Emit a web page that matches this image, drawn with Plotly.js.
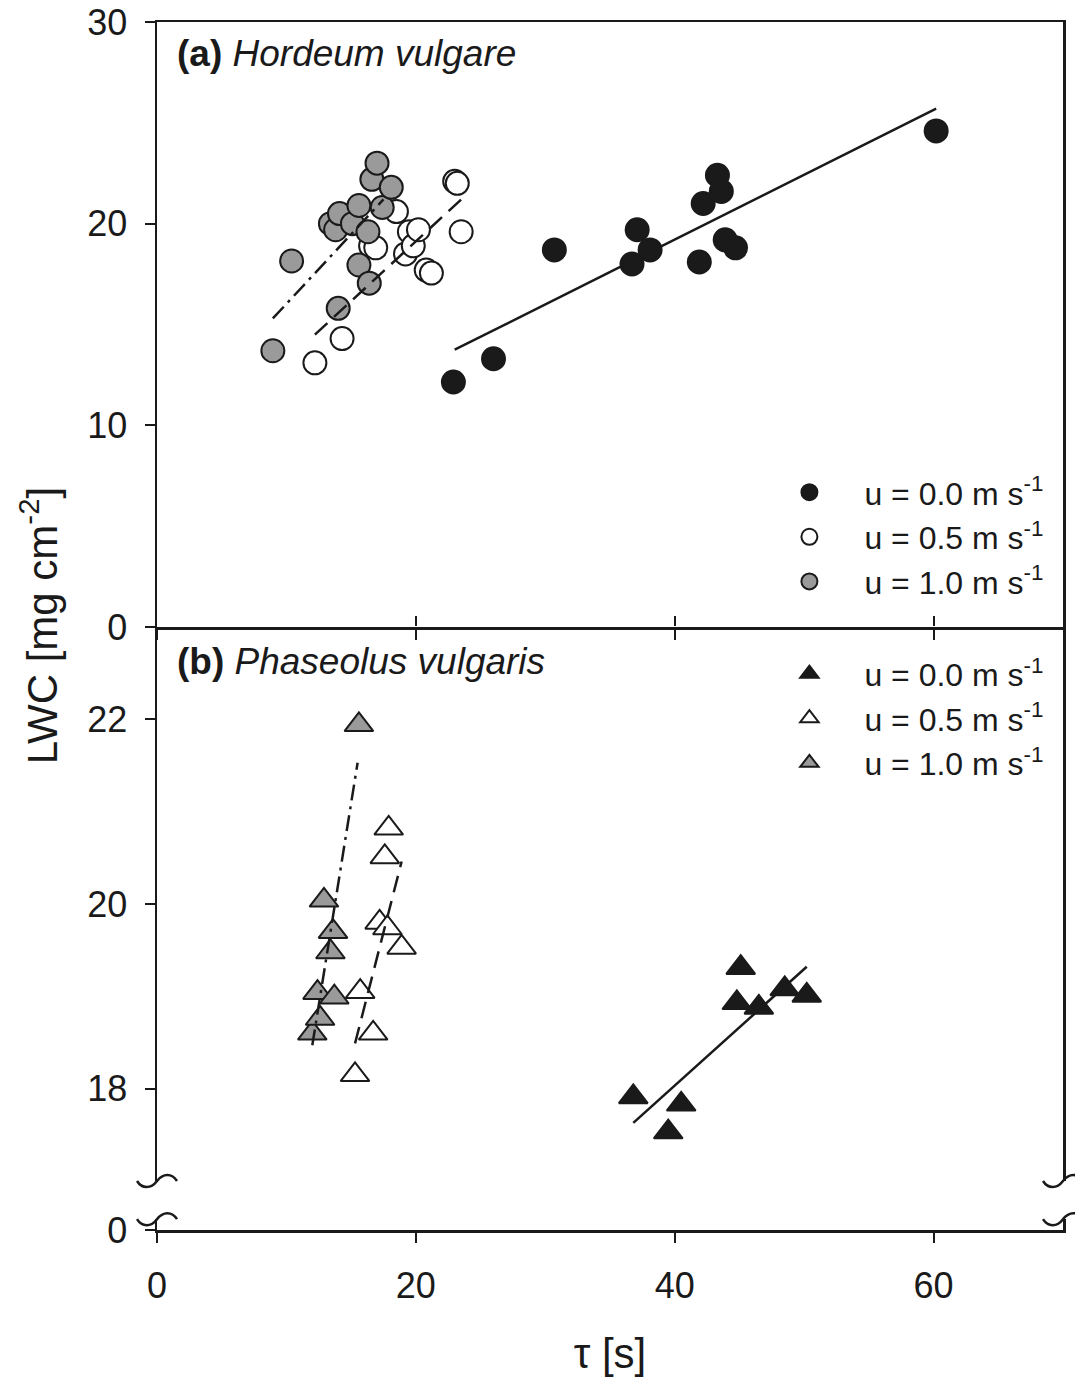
<!DOCTYPE html>
<html>
<head>
<meta charset="utf-8">
<script src="https://cdn.plot.ly/plotly-3.0.1.min.js"></script>
<style>html,body{margin:0;padding:0;background:#fff;}</style>
</head>
<body>
<div id="chart" style="width:1075px;height:1378px;"></div>
<script>
// ---------- Data: (a) Hordeum vulgare ----------
const hvTau00 = [22.9, 26.0, 30.7, 36.7, 37.1, 38.1, 41.9, 42.2, 43.3, 43.6, 43.9, 44.7, 60.2];
const hvLwc00 = [12.15, 13.3, 18.7, 18.0, 19.7, 18.7, 18.1, 21.0, 22.4, 21.6, 19.2, 18.8, 24.6];
const hvTau05 = [12.2, 14.3, 16.5, 16.9, 18.5, 19.2, 19.5, 19.8, 20.2, 20.8, 21.2, 23.0, 23.2, 23.5];
const hvLwc05 = [13.1, 14.3, 18.9, 18.8, 20.6, 18.5, 19.6, 18.9, 19.7, 17.7, 17.55, 22.1, 22.0, 19.6];
const hvTau10 = [8.95, 10.4, 13.4, 13.8, 14.0, 14.1, 15.1, 15.6, 15.6, 16.3, 16.4, 16.6, 17.0, 17.4, 18.1];
const hvLwc10 = [13.7, 18.15, 20.0, 19.7, 15.8, 20.5, 20.0, 20.9, 17.95, 19.6, 17.05, 22.2, 23.0, 20.8, 21.8];
// regression line end points
const hvFitTau00 = [23.0, 60.2];  const hvFitLwc00 = [13.75, 25.7];
const hvFitTau05 = [12.2, 23.5];  const hvFitLwc05 = [14.5, 21.2];
const hvFitTau10 = [8.95, 17.5];  const hvFitLwc10 = [15.3, 21.2];

// ---------- Data: (b) Phaseolus vulgaris ----------
const pvTau00 = [36.8, 39.5, 40.5, 44.8, 45.1, 46.5, 48.5, 50.2];
const pvLwc00 = [17.91, 17.53, 17.83, 18.93, 19.31, 18.88, 19.08, 19.01];
const pvTau05 = [15.3, 15.7, 16.7, 17.2, 17.6, 17.8, 17.9, 18.9];
const pvLwc05 = [18.15, 19.05, 18.60, 19.80, 20.51, 19.74, 20.82, 19.53];
const pvTau10 = [12.0, 12.4, 12.6, 13.4, 13.6, 12.9, 13.7, 15.6];
const pvLwc10 = [18.60, 19.04, 18.76, 19.48, 19.70, 20.04, 18.99, 21.94];
const pvFitTau00 = [36.8, 50.2];  const pvFitLwc00 = [17.63, 19.32];
const pvFitTau05 = [15.3, 18.9];  const pvFitLwc05 = [18.49, 20.46];
const pvFitTau10 = [12.0, 15.5];  const pvFitLwc10 = [18.47, 21.53];

// ---------- Text ----------
const seriesNames = ['u = 0.0 m s<sup>-1</sup>', 'u = 0.5 m s<sup>-1</sup>', 'u = 1.0 m s<sup>-1</sup>'];
const xTicks = [0, 20, 40, 60];
const yTicksTop = [0, 10, 20, 30];
const yTicksBottom = [18, 20, 22];
const yTicksBreak = [0];

// ---------- Styles ----------
const INK = '#1a1a1a';
const GREY = '#9a9a9a';
const fills = [INK, '#ffffff', GREY];
const dashes = ['solid', '17px,9px', '16px,6px,3px,6px'];
const FONT = 'Liberation Sans, Arial, Helvetica, sans-serif';

function markerTrace(x, y, i, sym, xa, ya, leg) {
  return {
    type: 'scatter', mode: 'markers', x: x, y: y, xaxis: xa, yaxis: ya,
    name: seriesNames[i], legend: leg, showlegend: true,
    marker: {symbol: sym, size: sym === 'circle' ? 23 : 25, color: fills[i], line: {color: INK, width: 2}},
    hoverinfo: 'x+y'
  };
}
function lineTrace(x, y, i, xa, ya) {
  return {
    type: 'scatter', mode: 'lines', x: x, y: y, xaxis: xa, yaxis: ya,
    showlegend: false, line: {color: INK, width: 2.5, dash: dashes[i]}, hoverinfo: 'skip'
  };
}

const traces = [
  markerTrace(hvTau00, hvLwc00, 0, 'circle', 'x', 'y', 'legend'),
  markerTrace(hvTau05, hvLwc05, 1, 'circle', 'x', 'y', 'legend'),
  markerTrace(hvTau10, hvLwc10, 2, 'circle', 'x', 'y', 'legend'),
  lineTrace(hvFitTau00, hvFitLwc00, 0, 'x', 'y'),
  lineTrace(hvFitTau05, hvFitLwc05, 1, 'x', 'y'),
  lineTrace(hvFitTau10, hvFitLwc10, 2, 'x', 'y'),
  markerTrace(pvTau00, pvLwc00, 0, 'triangle-up', 'x2', 'y2', 'legend2'),
  markerTrace(pvTau05, pvLwc05, 1, 'triangle-up', 'x2', 'y2', 'legend2'),
  markerTrace(pvTau10, pvLwc10, 2, 'triangle-up', 'x2', 'y2', 'legend2'),
  lineTrace(pvFitTau00, pvFitLwc00, 0, 'x2', 'y2'),
  lineTrace(pvFitTau05, pvFitLwc05, 1, 'x2', 'y2'),
  lineTrace(pvFitTau10, pvFitLwc10, 2, 'x2', 'y2'),
  // empty trace so the broken-axis strip (x3/y3) gets drawn
  {type: 'scatter', mode: 'markers', x: [], y: [], xaxis: 'x3', yaxis: 'y3', showlegend: false, hoverinfo: 'skip'}
];

// layout geometry (paper fractions)
const TOP_BOTTOM = 0.49917;   // boundary between panels
const BRK_TOP = 0.04056;      // lower end of panel (b) upper part
const BRK_LOW = 0.009;        // top of the short segment holding 0

const axisBase = {
  showgrid: false, zeroline: false, ticks: 'outside', ticklen: 10, tickwidth: 2,
  tickcolor: INK, linecolor: INK, linewidth: 2.5, tickfont: {size: 36, color: INK, family: FONT}
};

const tilde = 'M-20,0 C-15,-8 -6,-8 0,0 C6,8 15,8 20,0';
function brk(xa, ya) {
  return {type: 'path', xref: 'paper', yref: 'paper', xsizemode: 'pixel', ysizemode: 'pixel',
          xanchor: xa, yanchor: ya, path: tilde, line: {color: INK, width: 2.5}};
}

const legendBase = {bgcolor: 'rgba(0,0,0,0)', font: {size: 32, family: FONT, color: INK},
                    itemwidth: 100, tracegroupgap: 0, xanchor: 'right', x: 0.985};

const layout = {
  width: 1075, height: 1378,
  margin: {l: 157, r: 12, t: 22, b: 148},
  paper_bgcolor: '#ffffff', plot_bgcolor: 'rgba(0,0,0,0)',
  font: {family: FONT, color: INK, size: 34},
  xaxis: Object.assign({}, axisBase, {anchor: 'y', domain: [0, 1], range: [0, 70], tickvals: xTicks,
          showticklabels: false, showline: true, mirror: true}),
  yaxis: Object.assign({}, axisBase, {anchor: 'x', domain: [TOP_BOTTOM, 1], range: [0, 30], tickvals: yTicksTop,
          showline: true, mirror: true, ticklabelstandoff: 10}),
  xaxis2: Object.assign({}, axisBase, {anchor: 'y2', side: 'top', domain: [0, 1], range: [0, 70],
          tickvals: xTicks.slice(1), showticklabels: false, showline: false}),
  yaxis2: Object.assign({}, axisBase, {anchor: 'x2', domain: [BRK_TOP, TOP_BOTTOM], range: [17, 23],
          tickvals: yTicksBottom, showline: true, mirror: true, ticklabelstandoff: 10}),
  xaxis3: Object.assign({}, axisBase, {anchor: 'y3', domain: [0, 1], range: [0, 70], tickvals: xTicks,
          showline: true, ticklabelstandoff: 12,
          title: {text: 'τ [s]', font: {size: 42, family: FONT, color: INK}, standoff: 34}}),
  yaxis3: Object.assign({}, axisBase, {anchor: 'x3', domain: [0, BRK_LOW], range: [0, 1], tickvals: yTicksBreak,
          showline: true, mirror: true, ticklabelstandoff: 10}),
  legend: Object.assign({}, legendBase, {y: TOP_BOTTOM + 0.015, yanchor: 'bottom'}),
  legend2: Object.assign({}, legendBase, {y: TOP_BOTTOM - 0.016, yanchor: 'top'}),
  annotations: [
    {xref: 'paper', yref: 'paper', x: 0.02, y: 0.9743, xanchor: 'left', yanchor: 'middle', showarrow: false,
     text: '<b>(a)</b> <i>Hordeum vulgare</i>', font: {size: 37, family: FONT, color: INK}},
    {xref: 'paper', yref: 'paper', x: 0.02, y: 0.471, xanchor: 'left', yanchor: 'middle', showarrow: false,
     text: '<b>(b)</b> <i>Phaseolus vulgaris</i>', font: {size: 37, family: FONT, color: INK}},
    {xref: 'paper', yref: 'paper', x: -0.13, y: 0.5, xanchor: 'center', yanchor: 'middle', showarrow: false,
     textangle: -90, text: 'LWC [mg cm<sup>-2</sup>]', font: {size: 42, family: FONT, color: INK}}
  ],
  shapes: [brk(0, BRK_TOP), brk(1, BRK_TOP), brk(0, BRK_LOW), brk(1, BRK_LOW)]
};

Plotly.newPlot('chart', traces, layout, {displayModeBar: false, staticPlot: true});
</script>
</body>
</html>
